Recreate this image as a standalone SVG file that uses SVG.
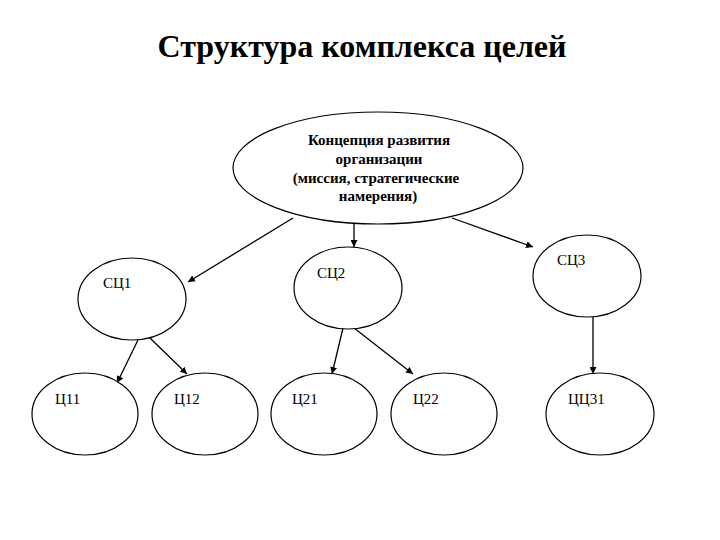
<svg xmlns="http://www.w3.org/2000/svg" width="720" height="540" viewBox="0 0 720 540">
<style>
.node ellipse{fill:#fff;stroke:#000;stroke-width:1.2}
.lbl{font-family:"Liberation Serif","Times New Roman","DejaVu Serif",serif;font-size:15px;fill:#000}
.main{font-family:"Liberation Serif","Times New Roman","DejaVu Serif",serif;font-size:15px;font-weight:bold;fill:#000;text-anchor:middle}
.title{font-family:"Liberation Serif","Times New Roman","DejaVu Serif",serif;font-size:32px;font-weight:bold;fill:#000;text-anchor:middle}
#connectors line{stroke:#000;stroke-width:1.3;marker-end:url(#ah)}
</style>
<defs>
<marker id="ah" viewBox="0 0 10 10" refX="10" refY="5" markerWidth="7" markerHeight="7" markerUnits="userSpaceOnUse" orient="auto">
<path d="M0,0 L10,5 L0,10 z" fill="#000"/>
</marker>
</defs>
<rect width="720" height="540" fill="#fff"/>
<text class="title" x="362" y="57">Структура комплекса целей</text>
<g id="connectors">
<line x1="293" y1="218" x2="188" y2="282"/>
<line x1="354" y1="224" x2="354" y2="247"/>
<line x1="452" y1="218" x2="533" y2="247"/>
<line x1="138" y1="340" x2="117" y2="383"/>
<line x1="150" y1="338" x2="187" y2="374"/>
<line x1="343" y1="328" x2="332" y2="374"/>
<line x1="354" y1="328" x2="413" y2="374"/>
<line x1="593" y1="317" x2="593" y2="374"/>
</g>
<g id="top" class="node">
<ellipse cx="378" cy="168" rx="145" ry="56"/>
<text class="main" x="379" y="145">Концепция развития</text>
<text class="main" x="379" y="164">организации</text>
<text class="main" x="376" y="183">(миссия, стратегические</text>
<text class="main" x="378" y="201">намерения)</text>
</g>
<g id="sc1" class="node"><ellipse cx="132" cy="299" rx="54" ry="41"/><text class="lbl" x="103" y="288">СЦ1</text></g>
<g id="sc2" class="node"><ellipse cx="348" cy="288" rx="54" ry="41"/><text class="lbl" x="317" y="278">СЦ2</text></g>
<g id="sc3" class="node"><ellipse cx="587" cy="276" rx="54" ry="41"/><text class="lbl" x="557" y="265">СЦ3</text></g>
<g id="c11" class="node"><ellipse cx="85" cy="414" rx="53" ry="41"/><text class="lbl" x="55" y="404">Ц11</text></g>
<g id="c12" class="node"><ellipse cx="205" cy="414" rx="53" ry="41"/><text class="lbl" x="174" y="404">Ц12</text></g>
<g id="c21" class="node"><ellipse cx="324" cy="414" rx="53" ry="41"/><text class="lbl" x="292" y="404">Ц21</text></g>
<g id="c22" class="node"><ellipse cx="444" cy="414" rx="53" ry="41"/><text class="lbl" x="413" y="404">Ц22</text></g>
<g id="c31" class="node"><ellipse cx="600" cy="414" rx="54" ry="41"/><text class="lbl" x="568" y="404">ЦЦ31</text></g>
</svg>
